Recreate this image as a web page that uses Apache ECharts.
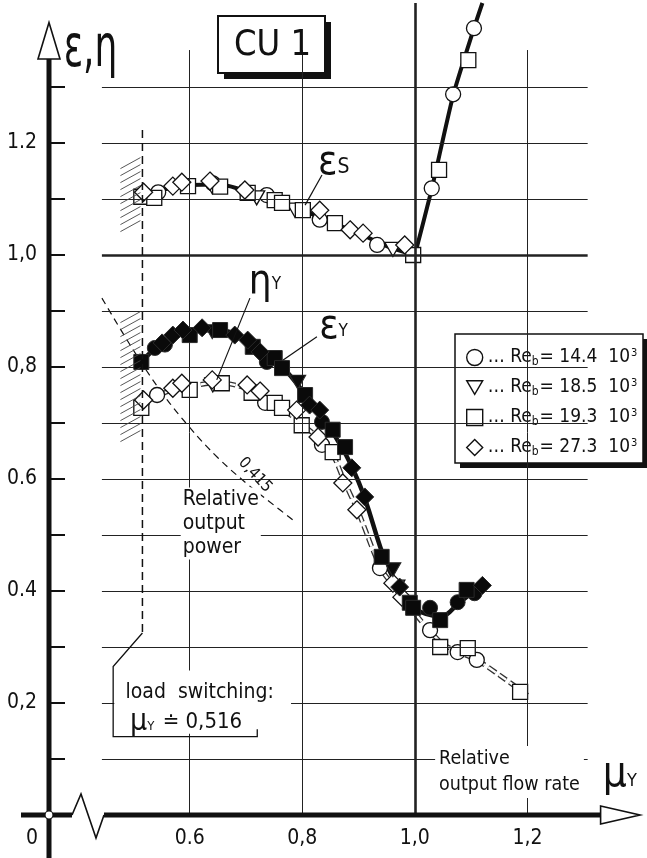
<!DOCTYPE html>
<html>
<head>
<meta charset="utf-8">
<script src="https://cdn.jsdelivr.net/npm/echarts@6.0.0/dist/echarts.min.js"></script>
<style>
html, body { margin: 0; padding: 0; background: #fff; }
#chart { width: 647px; height: 858px; }
</style>
</head>
<body>
<div id="chart"></div>
<script>
// axis labels / ticks
const xLabelVals = [0.6, 0.8, 1.0, 1.2]
const xLabelText = ['0.6', '0,8', '1,0', '1,2']
const yLabelVals = [0.2, 0.4, 0.6, 0.8, 1.0, 1.2]
const yLabelText = ['0,2', '0.4', '0.6', '0,8', '1,0', '1.2']
const yTickVals = [0.1, 0.2, 0.3, 0.4, 0.5, 0.6, 0.7, 0.8, 0.9, 1.0, 1.1, 1.2, 1.3]
const hGridVals = [0.1, 0.2, 0.3, 0.4, 0.5, 0.6, 0.7, 0.8, 0.9, 1.0, 1.1, 1.2, 1.3]
const vGridVals = [0.6, 0.8, 1.0, 1.2]

// Reynolds numbers (legend)
const reNames = ['14.4', '18.5', '19.3', '27.3']

// eps_S  (hollow markers)
const epsS_circle = [[0.544,1.112],[0.641,1.128],[0.737,1.107],[0.831,1.063],[0.933,1.018],[1.03,1.119],[1.068,1.287],[1.105,1.405]]
const epsS_tri = [[0.64,1.122],[0.719,1.102],[0.787,1.08],[0.961,1.01]]
const epsS_square = [[0.514,1.104],[0.537,1.102],[0.597,1.123],[0.654,1.122],[0.703,1.111],[0.751,1.098],[0.764,1.093],[0.801,1.08],[0.858,1.057],[0.997,1.0],[1.043,1.152],[1.095,1.348]]
const epsS_diamond = [[0.518,1.112],[0.57,1.123],[0.586,1.13],[0.636,1.132],[0.698,1.116],[0.831,1.08],[0.885,1.045],[0.908,1.039],[0.982,1.018]]

// eps_Y  (filled markers)
const epsY_circle = [[0.538,0.834],[0.556,0.84],[0.737,0.809],[0.835,0.702],[1.027,0.37],[1.076,0.38],[1.106,0.396]]
const epsY_tri = [[0.64,0.863],[0.792,0.773],[0.961,0.438]]
const epsY_square = [[0.514,0.809],[0.6,0.857],[0.654,0.866],[0.712,0.836],[0.751,0.816],[0.764,0.798],[0.805,0.75],[0.854,0.688],[0.876,0.657],[0.941,0.461],[0.991,0.379],[0.997,0.37],[1.045,0.348],[1.092,0.402]]
const epsY_diamond = [[0.551,0.843],[0.57,0.857],[0.588,0.866],[0.622,0.87],[0.68,0.857],[0.703,0.848],[0.725,0.827],[0.813,0.732],[0.831,0.723],[0.888,0.62],[0.911,0.568],[0.973,0.407],[1.12,0.41]]

// eta_Y  (hollow markers)
const etaY_circle = [[0.542,0.75],[0.734,0.736],[0.835,0.661],[0.938,0.441],[1.027,0.33],[1.076,0.291],[1.11,0.277]]
const etaY_tri = [[0.641,0.768],[0.968,0.407]]
const etaY_square = [[0.514,0.727],[0.6,0.759],[0.657,0.771],[0.71,0.754],[0.751,0.736],[0.764,0.727],[0.799,0.696],[0.854,0.648],[1.045,0.30],[1.094,0.298],[1.187,0.22]]
const etaY_diamond = [[0.518,0.741],[0.57,0.762],[0.586,0.771],[0.64,0.777],[0.702,0.768],[0.725,0.757],[0.79,0.723],[0.828,0.675],[0.872,0.593],[0.897,0.545],[0.961,0.414],[0.977,0.389]]

// drawn curves
const epsS_curve = [[0.514,1.104],[0.55,1.116],[0.6,1.125],[0.65,1.126],[0.7,1.114],[0.75,1.099],[0.8,1.08],[0.85,1.059],[0.9,1.039],[0.95,1.016],[1.0,1.0]]
const epsS_rise = [[1.0,1.0],[1.03,1.118],[1.068,1.285],[1.105,1.405],[1.12,1.45]]
const epsY_curve = [[0.514,0.808],[0.55,0.842],[0.6,0.862],[0.65,0.866],[0.7,0.849],[0.75,0.815],[0.8,0.758],[0.85,0.69],[0.9,0.595],[0.95,0.447],[0.98,0.395],[1.0,0.368],[1.045,0.355],[1.08,0.38],[1.12,0.412]]
const etaY_curve = [[0.514,0.727],[0.55,0.752],[0.6,0.765],[0.65,0.772],[0.7,0.762],[0.75,0.735],[0.8,0.698],[0.85,0.65],[0.875,0.595],[0.9,0.54],[0.94,0.44],[0.97,0.4],[1.0,0.36],[1.03,0.325],[1.05,0.305],[1.08,0.29],[1.11,0.277],[1.15,0.25],[1.204,0.211]]
// relative output power 0,415
const power_curve = [[0.444,0.923],[0.5,0.83],[0.55,0.755],[0.6,0.692],[0.65,0.638],[0.7,0.593],[0.75,0.553],[0.783,0.527]]

const loadSwitch = 0.516

const FONT = "'DejaVu Sans Condensed', 'Liberation Sans Narrow', 'DejaVu Sans', sans-serif"
const ink = '#111'
const triDown = 'path://M0,0L20,0L10,17Z'
const reSymbols = ['circle', triDown, 'rect', 'diamond']
const reSizes = [15, [16, 14], 15, 18]

let chart = echarts.init(document.getElementById('chart'), null, { renderer: 'canvas' })

function pick(vals, texts, v) {
  for (let i = 0; i < vals.length; i++) {
    if (Math.abs(vals[i] - v) < 1e-6) return texts[i]
  }
  return ''
}

function markerSeries(groups, filled, z) {
  return groups.map((data, i) => ({
    name: reNames[i],
    type: 'scatter',
    data: data,
    symbol: reSymbols[i],
    symbolSize: reSizes[i],
    z: z,
    silent: true,
    itemStyle: filled
      ? { color: '#0a0a0a', borderColor: '#2a2a2a', borderWidth: 1, opacity: 1 }
      : { color: '#fff', borderColor: ink, borderWidth: 1.3, opacity: 1 }
  }))
}

function curve(data, width, smooth, extra) {
  return Object.assign({
    type: 'line', data: data, showSymbol: false, smooth: smooth, clip: false,
    silent: true, z: 3,
    lineStyle: { color: ink, width: width }
  }, extra || {})
}

// grid lines as mark lines
let gridLines = []
hGridVals.forEach(v => {
  gridLines.push([
    { coord: [0.444, v], lineStyle: { color: '#222', type: 'solid', width: v === 1.0 ? 2.6 : 1 } },
    { coord: [1.307, v] }
  ])
})
vGridVals.forEach(v => {
  gridLines.push([
    { coord: [v, 0], lineStyle: { color: '#222', type: 'solid', width: v === 1.0 ? 2.6 : 1 } },
    { coord: [v, v === 1.0 ? 1.45 : 1.366] }
  ])
})

let series = [
  {
    type: 'line', data: [], silent: true, z: 1,
    markLine: {
      silent: true, symbol: ['none', 'none'], label: { show: false }, animation: false,
      lineStyle: { type: 'solid', color: '#222', width: 1 },
      data: gridLines
    }
  },
  curve(power_curve, 1.2, 0.4, { lineStyle: { color: ink, width: 1.2, type: [7, 5] } }),
  curve(etaY_curve, 5, 0.3, { lineStyle: { color: '#333', width: 5, type: [9, 4] } }),
  curve(etaY_curve, 5, 0.3, { lineStyle: { color: '#fff', width: 2.4, type: [9, 4] }, z: 3 }),
  curve(epsS_curve, 4, 0.4),
  curve(epsS_rise, 4, 0.2),
  curve(epsY_curve, 4.5, 0.4)
]
series = series
  .concat(markerSeries([etaY_circle, etaY_tri, etaY_square, etaY_diamond], false, 4))
  .concat(markerSeries([epsS_circle, epsS_tri, epsS_square, epsS_diamond], false, 4))
  .concat(markerSeries([epsY_circle, epsY_tri, epsY_square, epsY_diamond], true, 5))

let option = {
  animation: false,
  textStyle: { fontFamily: FONT },
  title: {
    text: 'CU 1', left: 234, top: 28, padding: 0,
    textStyle: { fontSize: 36, fontWeight: 'normal', color: ink, fontFamily: FONT }
  },
  legend: {
    orient: 'vertical', left: 455, top: 334, padding: [13, 8, 12, 11],
    itemGap: 9, itemWidth: 16, itemHeight: 16,
    selectedMode: false,
    itemStyle: { color: '#fff', borderColor: ink, borderWidth: 1.4, opacity: 1 },
    data: reNames.map((n, i) => ({ name: n, icon: i === 1 ? triDown : reSymbols[i] })),
    formatter: n => '{t|… Re}{s|b}{t|= ' + n + '  10}{p|3}',
    textStyle: {
      color: ink, fontSize: 19, fontFamily: FONT,
      rich: {
        t: { fontSize: 19, lineHeight: 20, color: ink, fontFamily: FONT },
        s: { fontSize: 12, lineHeight: 12, color: ink, fontFamily: FONT, padding: [9, 1, 0, 0] },
        p: { fontSize: 11, lineHeight: 11, color: ink, fontFamily: FONT, padding: [0, 0, 9, 1] }
      }
    }
  },
  grid: { left: 49, right: 7, top: 3, bottom: 43 },
  xAxis: {
    type: 'value', min: 0.35, max: 1.4,
    axisLine: { show: false }, axisTick: { show: false }, splitLine: { show: false },
    axisLabel: {
      customValues: xLabelVals, margin: 13, fontSize: 21, color: ink,
      formatter: v => pick(xLabelVals, xLabelText, v)
    }
  },
  yAxis: {
    type: 'value', min: 0, max: 1.45,
    axisLine: { show: false }, splitLine: { show: false },
    axisTick: { show: true, inside: true, length: 16, customValues: yTickVals, lineStyle: { color: ink, width: 2 } },
    axisLabel: {
      customValues: yLabelVals, margin: 12, fontSize: 21, color: ink,
      formatter: v => pick(yLabelVals, yLabelText, v)
    }
  },
  series: series
}

chart.setOption(option)

function px(x, y) {
  return chart.convertToPixel({ gridIndex: 0 }, [x, y])
}

function seg(a, b, w, extra) {
  return Object.assign({
    type: 'line', z: 50, silent: true,
    shape: { x1: a[0], y1: a[1], x2: b[0], y2: b[1] },
    style: { stroke: ink, lineWidth: w }
  }, extra || {})
}

function txt(p, text, size, extra, styleExtra) {
  return Object.assign({
    type: 'text', z: 60, silent: true, x: p[0], y: p[1],
    style: Object.assign({ text: text, fontSize: size, fontFamily: FONT, fill: ink, align: 'left', verticalAlign: 'middle' }, styleExtra || {})
  }, extra || {})
}

// framed box with a solid drop shadow to the lower right
function shadowBox(g, x, y, w, h, off, lw) {
  g.push({ type: 'rect', z: 2, silent: true, shape: { x: x + off, y: y + off, width: w, height: h }, style: { fill: ink } })
  g.push({ type: 'rect', z: 3, silent: true, shape: { x: x, y: y, width: w, height: h }, style: { fill: '#fff', stroke: ink, lineWidth: lw } })
}

function buildGraphic() {
  let g = []
  const [X0, Y0] = px(0.35, 0)
  const tipY = px(0.35, 1.415)[1]
  const baseY = px(0.35, 1.35)[1]
  const XA = px(1.33, 0)[0]
  const XT = px(1.4, 0)[0]

  // title and legend frames
  shadowBox(g, 218, 16, 107, 57, 6, 2)
  shadowBox(g, 455, 334, 188, 129, 5, 1.5)

  // y axis + hollow arrow
  g.push(seg([X0, baseY], [X0, 858], 5))
  g.push({ type: 'polygon', z: 51, silent: true, shape: { points: [[X0, tipY], [X0 - 11, baseY], [X0 + 11, baseY]] }, style: { fill: '#fff', stroke: ink, lineWidth: 1.6 } })
  // x axis with break + arrow
  g.push(seg([X0 - 28, Y0], [X0 + 23, Y0], 5))
  g.push({ type: 'polyline', z: 50, silent: true, shape: { points: [[X0 + 23, Y0], [X0 + 32, Y0 - 21], [X0 + 47, Y0 + 23], [X0 + 55, Y0]] }, style: { stroke: ink, lineWidth: 1.6, fill: null } })
  g.push(seg([X0 + 55, Y0], [XA, Y0], 5))
  g.push({ type: 'polygon', z: 51, silent: true, shape: { points: [[XA, Y0 - 9], [XT, Y0], [XA, Y0 + 9]] }, style: { fill: '#fff', stroke: ink, lineWidth: 1.6 } })
  g.push({ type: 'circle', z: 52, silent: true, shape: { cx: X0, cy: Y0, r: 4 }, style: { fill: '#fff', stroke: ink, lineWidth: 1.2 } })
  g.push(txt([X0 - 17, Y0 + 24], '0', 21, {}, { align: 'center' }))

  // hatching left of the load switching line
  const xs = px(loadSwitch, 0)[0]
  const hatch = (y1, y2) => {
    const top = px(0, y2)[1], bot = px(0, y1)[1]
    for (let y = top; y <= bot; y += 7) {
      g.push(seg([xs - 22, y + 6], [xs - 2, y - 5], 0.9, { z: 20, style: { stroke: '#444', lineWidth: 0.9 } }))
    }
  }
  hatch(1.05, 1.165)
  hatch(0.67, 0.89)

  // load switching dashed line and bracket
  g.push(seg(px(loadSwitch, 1.223), px(loadSwitch, 0.325), 1.5, { style: { stroke: ink, lineWidth: 1.5, lineDash: [8, 5] } }))
  const r0 = px(0.466, 0.258), r1 = px(0.78, 0.145)
  g.push({ type: 'rect', z: 45, silent: true, shape: { x: r0[0], y: r0[1], width: r1[0] - r0[0], height: r1[1] - r0[1] }, style: { fill: '#fff' } })
  g.push({ type: 'polyline', z: 50, silent: true, shape: { points: [px(loadSwitch, 0.325), px(0.464, 0.265), px(0.464, 0.14), px(0.72, 0.14), px(0.72, 0.153)] }, style: { stroke: ink, lineWidth: 1.3, fill: null } })
  g.push(txt(px(0.486, 0.218), 'load  switching:', 21))
  g.push(txt(px(0.494, 0.166), '{m|μ}{s|Y}{t| ≐ 0,516}', 21, {}, {
    rich: {
      m: { fontSize: 30, fontFamily: FONT },
      s: { fontSize: 13, fontFamily: FONT, padding: [9, 2, 0, 0] },
      t: { fontSize: 22, fontFamily: FONT }
    }
  }))

  // axis names
  g.push(txt(px(0.376, 1.365), 'ε,η', 40, { scaleY: 1.45, originX: 0, originY: 0 }))
  g.push(txt(px(1.334, 0.071), '{m|μ}{s|Y}', 30, {}, {
    rich: {
      m: { fontSize: 42, fontFamily: FONT },
      s: { fontSize: 18, fontFamily: FONT, padding: [12, 0, 0, 0] }
    }
  }))

  // curve labels with leader lines
  const sub = { e: { fontSize: 40, fontFamily: FONT }, s: { fontSize: 21, fontFamily: FONT, padding: [8, 0, 0, 0] } }
  g.push(txt(px(0.828, 1.163), '{e|ε}{s|S}', 40, {}, { rich: sub }))
  g.push(seg(px(0.835, 1.143), px(0.805, 1.089), 1.2))
  g.push(txt(px(0.705, 0.95), '{e|η}{s|Y}', 40, {}, { rich: { e: { fontSize: 40, fontFamily: FONT }, s: { fontSize: 17, fontFamily: FONT, padding: [4, 0, 0, 0] } } }))
  g.push(seg(px(0.707, 0.923), px(0.648, 0.777), 1.2))
  g.push(txt(px(0.83, 0.87), '{e|ε}{s|Y}', 40, {}, { rich: { e: { fontSize: 40, fontFamily: FONT }, s: { fontSize: 17, fontFamily: FONT, padding: [8, 0, 0, 0] } } }))
  g.push(seg(px(0.826, 0.854), px(0.766, 0.8125), 1.2))

  // relative output power
  g.push(txt(px(0.716, 0.607), '0,415', 16, { rotation: -0.82 }, { align: 'center' }))
  g.push(txt(px(0.584, 0.585), 'Relative\noutput\npower', 21, {}, { verticalAlign: 'top', lineHeight: 24, backgroundColor: '#fff', padding: [0, 2, 0, 2] }))

  // relative output flow rate
  g.push(txt(px(1.036, 0.123), 'Relative\noutput flow rate', 19.5, {}, { verticalAlign: 'top', lineHeight: 26, backgroundColor: '#fff', padding: [0, 4, 0, 4] }))

  return g
}

chart.setOption({ graphic: buildGraphic() })

window.addEventListener('resize', () => {
  chart.resize()
})
</script>
</body>
</html>
